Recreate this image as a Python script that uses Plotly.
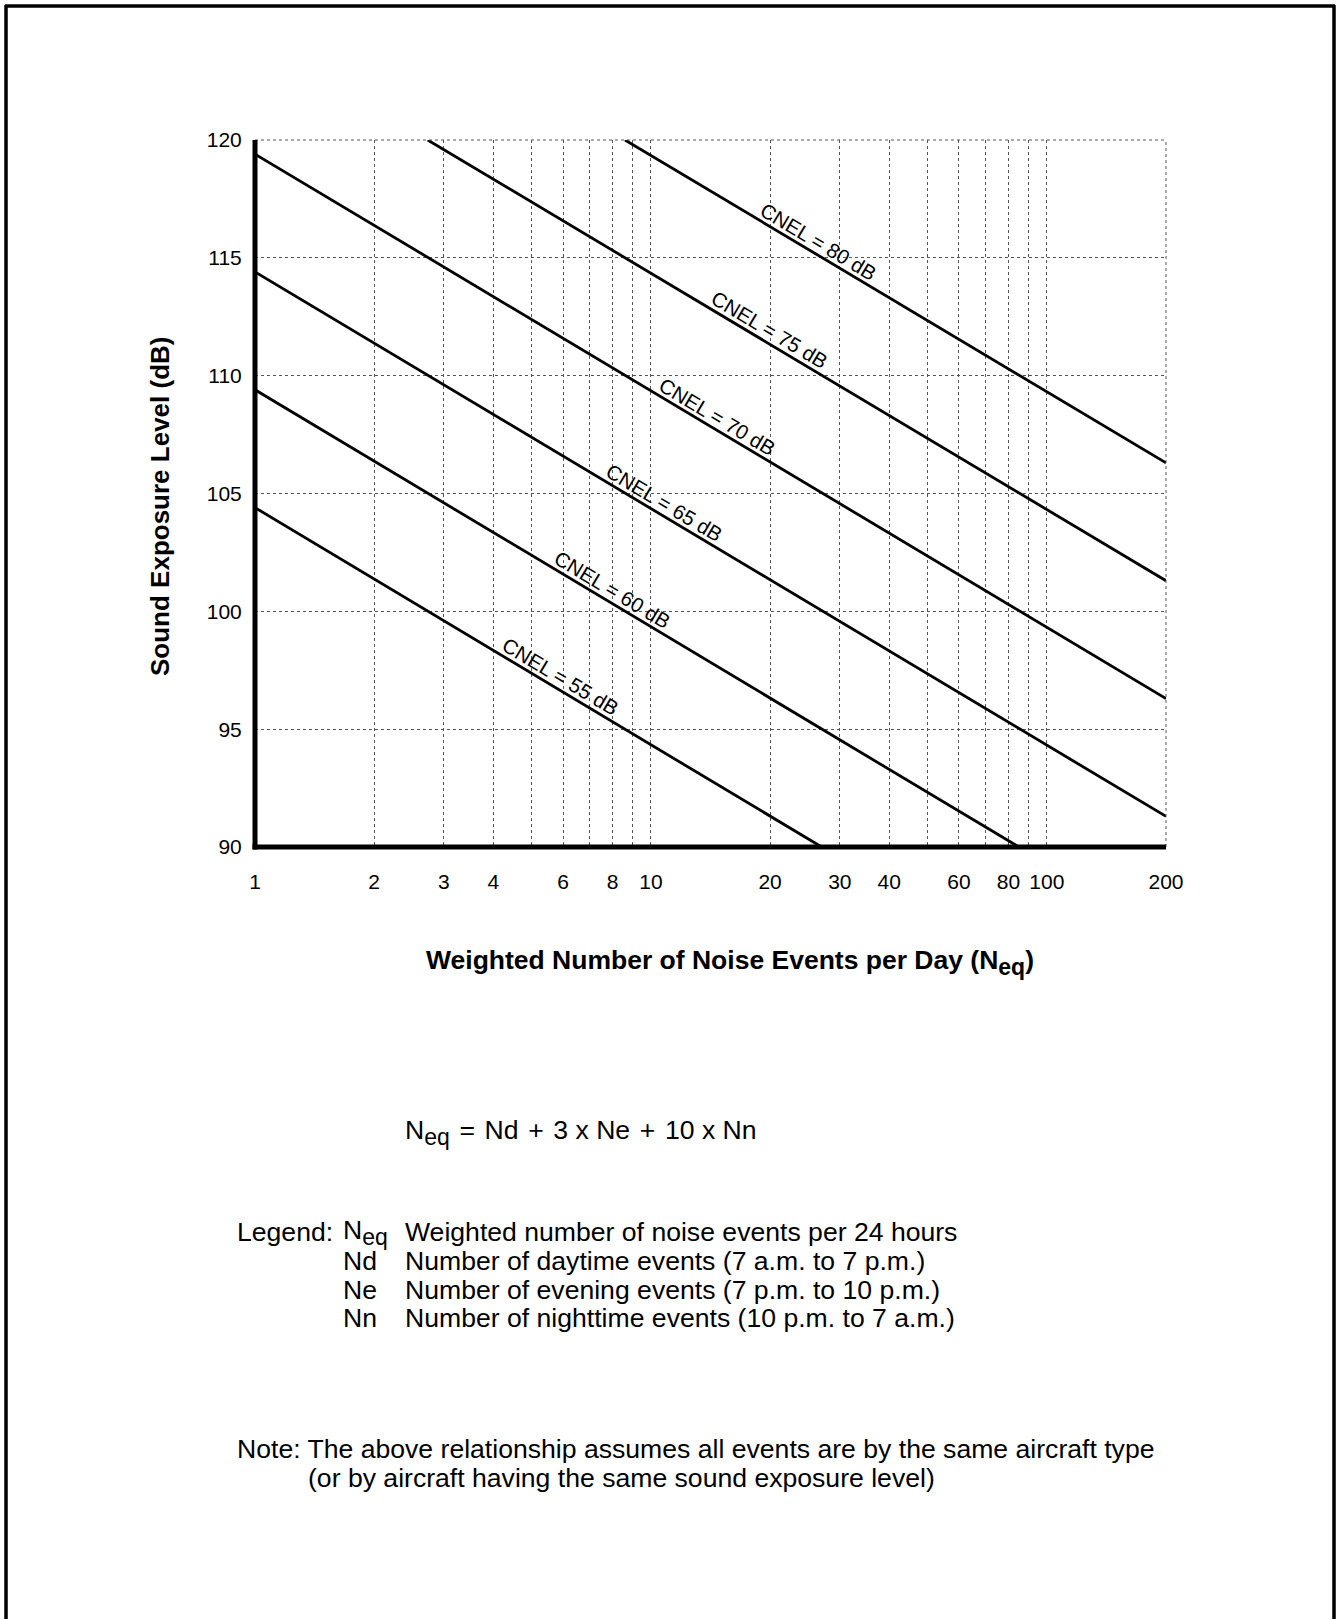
import numpy as np
import plotly.graph_objects as go

# ---- data ----
cnel_levels = [55, 60, 65, 70, 75, 80]
line_x_start = [1, 1, 1, 1, 2.73, 8.6]
line_y_start = [104.4, 109.4, 114.4, 119.4, 120.0, 120.0]
line_x_end = [27, 85, 200, 200, 200, 200]
line_y_end = [90.0, 90.0, 91.3, 96.3, 101.3, 106.3]
label_x = [5.92, 7.99, 10.8, 14.7, 19.9, 26.5]

x_grid_vals = [1, 2, 3, 4, 5, 6, 7, 8, 9, 10, 20, 30, 40, 50, 60, 70, 80, 90, 100, 200]
x_tick_text = ["1", "2", "3", "4", "", "6", "", "8", "", "10", "20", "30", "40", "", "60", "", "80", "", "100", "200"]
y_tick_vals = [90, 95, 100, 105, 110, 115, 120]

W, H = 1340, 1619
L, R, T, B = 255, 1166, 140, 847
FONT = "Liberation Sans, Arial, Helvetica, sans-serif"
SUB = "<sub><span style='font-size:23px'>eq</span></sub>"
HS = "&#8202;"


def px(x):
    return (x - L) / (R - L)


def py(y):
    return (B - y) / (B - T)


fig = go.Figure()
for lvl, x0, y0, x1, y1 in zip(cnel_levels, line_x_start, line_y_start, line_x_end, line_y_end):
    fig.add_trace(go.Scatter(x=[x0, x1], y=[y0, y1], mode="lines",
                             line=dict(color="black", width=2.8),
                             showlegend=False, hoverinfo="skip"))

annotations = []
# labels along lines
for lvl, lx, x0, y0, x1, y1 in zip(cnel_levels, label_x, line_x_start, line_y_start, line_x_end, line_y_end):
    t = (np.log10(lx) - np.log10(x0)) / (np.log10(x1) - np.log10(x0))
    ly = y0 + t * (y1 - y0)
    annotations.append(dict(x=np.log10(lx), y=ly, xref="x", yref="y",
                            text=f"CNEL = {lvl} dB", showarrow=False,
                            textangle=30.8, yshift=14,
                            font=dict(family=FONT, size=20.5, color="black")))


def txt(x, y, text, size=26.6, anchor="left", bold=False, angle=0):
    annotations.append(dict(x=px(x), y=py(y), xref="paper", yref="paper",
                            text=f"<b>{text}</b>" if bold else text,
                            showarrow=False, xanchor=anchor, yanchor="middle",
                            textangle=angle,
                            font=dict(family=FONT, size=size, color="black")))


txt(160, 506, "Sound Exposure Level (dB)", size=26, anchor="center", bold=True, angle=-90)
txt(730, 963, "Weighted Number of Noise Events per Day (N" + SUB + ")", size=26.5, anchor="center", bold=True)

txt(403, 1132, "N" + SUB + " " + HS + "=" + HS + " Nd " + HS + "+" + HS + " 3 x Ne " + HS + "+" + HS + " 10 x Nn")

legend_rows = [
    ("Legend:", "N" + SUB, "Weighted number of noise events per 24 hours"),
    ("", "Nd", "Number of daytime events (7 a.m. to 7 p.m.)"),
    ("", "Ne", "Number of evening events (7 p.m. to 10 p.m.)"),
    ("", "Nn", "Number of nighttime events (10 p.m. to 7 a.m.)"),
]
row_y = [1232, 1261, 1290, 1318]
for (a, b, c), yy in zip(legend_rows, row_y):
    if a:
        txt(235, yy, a)
    txt(341, yy, b)
    txt(403, yy, c)

txt(235, 1449, "Note: The above relationship assumes all events are by the same aircraft type")
txt(306, 1478, "(or by aircraft having the same sound exposure level)")

dot = dict(color="#555", width=1, dash="dot")
shapes = [
    # page frame
    dict(type="line", xref="paper", yref="paper", x0=px(5), x1=px(1335), y0=py(6), y1=py(6),
         line=dict(color="black", width=3.5)),
    dict(type="line", xref="paper", yref="paper", x0=px(6), x1=px(6), y0=py(5), y1=py(1625),
         line=dict(color="black", width=3.5)),
    dict(type="line", xref="paper", yref="paper", x0=px(1334), x1=px(1334), y0=py(5), y1=py(1625),
         line=dict(color="black", width=3.5)),
    # top and right dotted borders of the grid
    dict(type="line", xref="paper", yref="paper", x0=0, x1=1, y0=1, y1=1, line=dot),
    dict(type="line", xref="paper", yref="paper", x0=1, x1=1, y0=0, y1=1, line=dot),
    # heavy axis lines
    dict(type="line", xref="paper", yref="paper", x0=0, x1=0, y0=py(B + 2.5), y1=1,
         line=dict(color="black", width=5)),
    dict(type="line", xref="paper", yref="paper", x0=px(L - 2.5), x1=1, y0=0, y1=0,
         line=dict(color="black", width=5)),
]

fig.update_layout(
    width=W, height=H,
    margin=dict(l=L, r=W - R, t=T, b=H - B, pad=0),
    paper_bgcolor="white", plot_bgcolor="white",
    annotations=annotations, shapes=shapes,
    font=dict(family=FONT, size=21, color="black"),
    xaxis=dict(type="log", range=[0, np.log10(200)],
               tickvals=x_grid_vals, ticktext=x_tick_text,
               showgrid=True, gridcolor="#555", gridwidth=1, griddash="dot",
               showline=False,
               ticks="outside", ticklen=16, tickcolor="rgba(0,0,0,0)",
               tickfont=dict(size=21), zeroline=False, fixedrange=True),
    yaxis=dict(range=[90, 120], tickvals=y_tick_vals,
               showgrid=True, gridcolor="#555", gridwidth=1, griddash="dot",
               showline=False,
               ticks="outside", ticklen=8, tickcolor="rgba(0,0,0,0)",
               tickfont=dict(size=21), zeroline=False, fixedrange=True),
)

fig.write_html("out.html")
